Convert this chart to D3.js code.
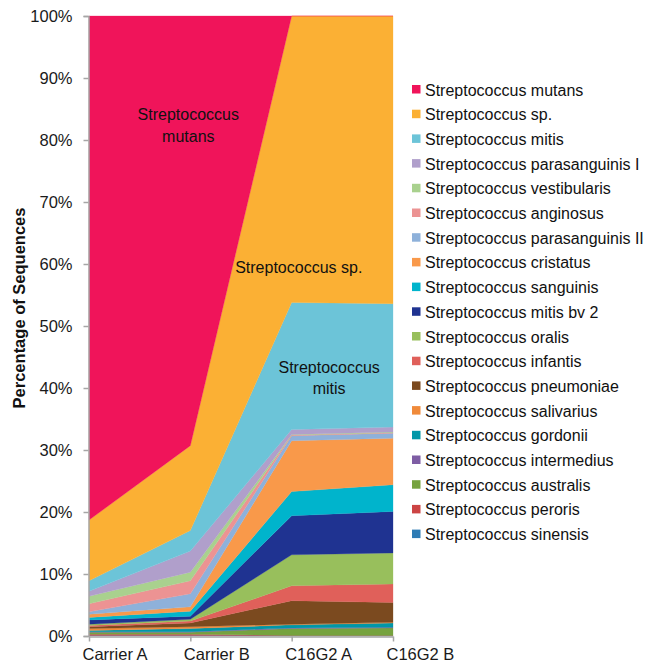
<!DOCTYPE html>
<html>
<head>
<meta charset="utf-8">
<script src="https://cdn.jsdelivr.net/npm/d3@7"></script>
<style>
  body { margin: 0; background: #fff; }
  svg { font-family: "Liberation Sans", Arial, sans-serif; }
</style>
</head>
<body>
<svg id="svg" width="666" height="663"></svg>
<script>
const categories = ['Carrier A', 'Carrier B', 'C16G2 A', 'C16G2 B'];

// legend order (top of stack first)
const species = [
  'Streptococcus mutans', 'Streptococcus sp.', 'Streptococcus mitis',
  'Streptococcus parasanguinis I', 'Streptococcus vestibularis', 'Streptococcus anginosus',
  'Streptococcus parasanguinis II', 'Streptococcus cristatus', 'Streptococcus sanguinis',
  'Streptococcus mitis bv 2', 'Streptococcus oralis', 'Streptococcus infantis',
  'Streptococcus pneumoniae', 'Streptococcus salivarius', 'Streptococcus gordonii',
  'Streptococcus intermedius', 'Streptococcus australis', 'Streptococcus peroris',
  'Streptococcus sinensis'
];

const colors = [
  '#f0145a', '#fbb034', '#6cc4d8', '#b09fcb', '#a9d18e', '#ec9393',
  '#8eb1da', '#f9994a', '#00b4cc', '#1f3391', '#98bf5c', '#e0605a',
  '#7b4a1f', '#f08a3a', '#0097a8', '#7e5da4', '#76a33f', '#cc4444', '#2e7cb5'
];

// percentage of sequences, one value per category, same order as species
const mutans         = [81.3, 69.3,  0.0,  0.0];
const sp             = [ 9.8, 13.7, 46.2, 46.4];
const mitis          = [ 1.7,  3.3, 20.5, 19.9];
const parasanguinisI = [ 0.8,  3.4,  0.8,  0.8];
const vestibularis   = [ 1.2,  1.4,  0.1,  0.1];
const anginosus      = [ 1.3,  2.1,  0.1,  0.1];
const parasanguinisII= [ 0.4,  2.1,  0.8,  0.8];
const cristatus      = [ 0.5,  0.7,  8.2,  7.5];
const sanguinis      = [ 0.4,  0.8,  3.9,  4.3];
const mitisBv2       = [ 0.7,  0.5,  6.3,  6.7];
const oralis         = [ 0.2,  0.3,  5.0,  5.0];
const infantis       = [ 0.2,  0.3,  2.4,  3.0];
const pneumoniae     = [ 0.3,  0.6,  3.8,  3.2];
const salivarius     = [ 0.3,  0.3,  0.1,  0.1];
const gordonii       = [ 0.2,  0.5,  0.5,  0.7];
const intermedius    = [ 0.1,  0.1,  0.1,  0.1];
const australis      = [ 0.3,  0.3,  1.1,  1.2];
const peroris        = [ 0.2,  0.2,  0.05, 0.05];
const sinensis       = [ 0.1,  0.1,  0.05, 0.05];

const seriesValues = [
  mutans, sp, mitis, parasanguinisI, vestibularis, anginosus, parasanguinisII,
  cristatus, sanguinis, mitisBv2, oralis, infantis, pneumoniae, salivarius,
  gordonii, intermedius, australis, peroris, sinensis
];

const yTicks = [0, 10, 20, 30, 40, 50, 60, 70, 80, 90, 100];

// in-chart labels: text lines, position in category steps, value of first baseline
const areaLabels = [
  { lines: ['Streptococcus', 'mutans'], x: 0.98, y: 83.2 },
  { lines: ['Streptococcus sp.'], x: 2.07, y: 58.5 },
  { lines: ['Streptococcus', 'mitis'], x: 2.37, y: 42.5 }
];

// build table for d3.stack
const table = categories.map((c, i) => {
  const row = { category: c };
  species.forEach((s, j) => { row[s] = seriesValues[j][i]; });
  return row;
});

const svg = d3.select('#svg');

const xScale = d3.scalePoint()
  .domain(categories)
  .range([89, 393]);

const yScale = d3.scaleLinear()
  .domain([0, 100])
  .range([636, 16]);

const stackKeys = species.slice().reverse();
const stacked = d3.stack().keys(stackKeys)(table);

const area = d3.area()
  .x(d => xScale(d.data.category))
  .y0(d => yScale(d[0]))
  .y1(d => yScale(Math.min(d[1], 100)));

const colorOf = d3.scaleOrdinal().domain(species).range(colors);

svg.append('g')
  .selectAll('path')
  .data(stacked)
  .enter()
  .append('path')
  .attr('d', area)
  .attr('fill', d => colorOf(d.key))
  .attr('stroke', d => colorOf(d.key))
  .attr('stroke-width', 0.3);

// y axis
const yAxis = d3.axisLeft(yScale)
  .tickValues(yTicks)
  .tickFormat(d => d + '%')
  .tickSize(5)
  .tickPadding(11);

const gy = svg.append('g')
  .attr('transform', 'translate(88.5,0)')
  .call(yAxis);
gy.select('.domain').attr('stroke', '#a6a6a6').attr('stroke-width', 1.5);
gy.selectAll('.tick line').attr('stroke', '#a6a6a6').attr('stroke-width', 1.5);
gy.selectAll('.tick text')
  .attr('font-size', 16.5)
  .attr('fill', '#1a1a1a')
  .attr('font-family', '"Liberation Sans", Arial, sans-serif');

// x axis
const xAxis = d3.axisBottom(xScale)
  .tickSize(5)
  .tickSizeOuter(0)
  .tickPadding(7);

const gx = svg.append('g')
  .attr('transform', 'translate(0,636.5)')
  .call(xAxis);
gx.select('.domain').attr('stroke', '#a6a6a6').attr('stroke-width', 1.5);
gx.selectAll('.tick line').attr('stroke', '#a6a6a6').attr('stroke-width', 1.5);
gx.selectAll('.tick text')
  .attr('font-size', 16.5)
  .attr('fill', '#1a1a1a')
  .attr('font-family', '"Liberation Sans", Arial, sans-serif')
  .attr('text-anchor', 'start')
  .attr('x', -7);

// y axis title
svg.append('text')
  .attr('transform', 'translate(25,308) rotate(-90)')
  .attr('text-anchor', 'middle')
  .attr('font-size', 16.5)
  .attr('font-weight', 'bold')
  .attr('fill', '#111')
  .text('Percentage of Sequences');

// labels inside the areas
const lbl = svg.append('g');
areaLabels.forEach(l => {
  const x0 = xScale.range()[0] + l.x * xScale.step();
  l.lines.forEach((t, k) => {
    lbl.append('text')
      .attr('x', x0)
      .attr('y', yScale(l.y) + k * 21.5)
      .attr('text-anchor', 'middle')
      .attr('font-size', 16)
      .attr('fill', '#111')
      .text(t);
  });
});

// legend
const legend = svg.append('g').attr('transform', 'translate(412,85)');
const item = legend.selectAll('.item')
  .data(species)
  .enter()
  .append('g')
  .attr('class', 'item')
  .attr('transform', (d, i) => 'translate(0,' + (i * 24.7) + ')');
item.append('rect')
  .attr('width', 8.5)
  .attr('height', 8.5)
  .attr('fill', d => colorOf(d));
item.append('text')
  .attr('x', 13)
  .attr('y', 10.5)
  .attr('font-size', 16)
  .attr('fill', '#111')
  .text(d => d);
</script>
</body>
</html>
